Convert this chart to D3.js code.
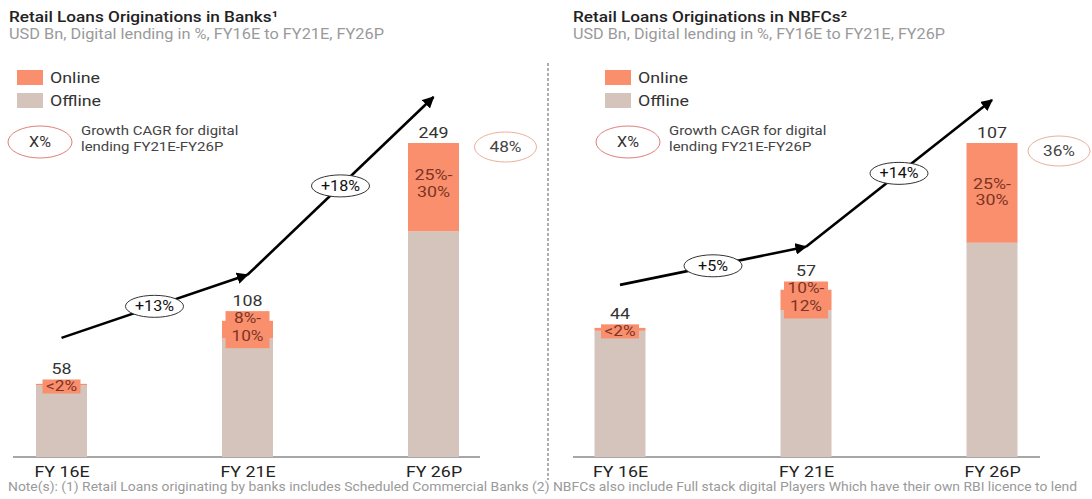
<!DOCTYPE html>
<html><head><meta charset="utf-8">
<script src="https://cdn.jsdelivr.net/npm/d3@7/dist/d3.min.js"></script>
<style>body{margin:0;background:#fff;}svg{display:block;font-family:Roboto,"Noto Sans",sans-serif;}</style>
</head><body><svg id="c" width="1092" height="499"></svg>
<script>
const categories = ["FY 16E", "FY 21E", "FY 26P"];
const banksTotal = [58, 108, 249];
const banksOnline = [1, 14, 70];
const banksOnlineLabels = [["<2%"], ["8%-", "10%"], ["25%-", "30%"]];
const banksCagr = ["+13%", "+18%"];
const banksDigitalCagr = "48%";
const nbfcTotal = [44, 57, 107];
const nbfcOnline = [1, 7, 34];
const nbfcOnlineLabels = [["<2%"], ["10%-", "12%"], ["25%-", "30%"]];
const nbfcCagr = ["+5%", "+14%"];
const nbfcDigitalCagr = "36%";
const titles = ["Retail Loans Originations in Banks\u00B9", "Retail Loans Originations in NBFCs\u00B2"];
const subtitle = "USD Bn, Digital lending in %, FY16E to FY21E, FY26P";
const legendItems = ["Online", "Offline"];
const legendCagr = ["Growth CAGR for digital", "lending FY21E-FY26P"];
const footnote = "Note(s):  (1) Retail Loans originating by banks includes Scheduled Commercial Banks (2) NBFCs also include Full stack digital Players Which have their own RBI licence to lend";

const ONLINE = "#f98f6d", OFFLINE = "#d4c4bb", LABELTXT = "#7c3424";
const SX = 1.15;
const svg = d3.select("#c");
const defs = svg.append("defs");
defs.append("marker").attr("id", "ah").attr("viewBox", "0 0 10 10").attr("refX", 9).attr("refY", 5)
  .attr("markerWidth", 4.5).attr("markerHeight", 4.5).attr("orient", "auto")
  .append("path").attr("d", "M0,0L10,5L0,10Z").attr("fill", "#000");

function panel(g, cfg) {
  const x = d3.scalePoint().domain(categories).range([cfg.x0, cfg.x0 + 372]);
  const y = d3.scaleLinear().domain([0, d3.max(cfg.total)]).range([457, 143]);
  const bw = 51;
  // title
  g.append("text").attr("x", cfg.tx).attr("y", 22).attr("font-size", 15.5).attr("font-weight", 500)
    .attr("fill", "#222").attr("textLength", cfg.tl).attr("lengthAdjust", "spacingAndGlyphs").text(cfg.title);
  g.append("text").attr("x", cfg.tx).attr("y", 39).attr("font-size", 14).attr("fill", "#9a9a9a")
    .attr("textLength", cfg.sl).attr("lengthAdjust", "spacingAndGlyphs").text(subtitle);
  // legend
  const lg = g.append("g").attr("transform", `translate(${cfg.lx},0)`);
  [ONLINE, OFFLINE].forEach((c, i) => {
    lg.append("rect").attr("x", 17).attr("y", 70 + i * 23).attr("width", 26).attr("height", 15).attr("fill", c);
    lg.append("text").attr("x", 50).attr("y", 83 + i * 23).attr("font-size", 15.5).attr("fill", "#333").text(legendItems[i]);
  });
  lg.append("ellipse").attr("cx", 40).attr("cy", 142).attr("rx", 32).attr("ry", 16)
    .attr("fill", "none").attr("stroke", "#e07f7a").attr("stroke-width", 1);
  lg.append("text").attr("x", 40).attr("y", 147).attr("text-anchor", "middle").attr("font-size", 14).attr("fill", "#333").text("X%");
  legendCagr.forEach((t, i) => lg.append("text").attr("x", 81).attr("y", 135 + i * 16).attr("font-size", 13).attr("fill", "#444").text(t));
  // axis
  const axis = g.append("g").attr("transform", "translate(0,457)")
    .call(d3.axisBottom(x).tickSize(0).tickPadding(9));
  axis.select(".domain").remove();
  axis.append("line").attr("x1", cfg.ax0).attr("x2", cfg.ax0 + 467).attr("stroke", "#8a8a8a").attr("stroke-width", 1.3);
  axis.selectAll(".tick text").attr("font-size", 15.5).attr("fill", "#222").attr("font-family", "Roboto,sans-serif");
  // bars
  const data = categories.map((c, i) => ({c, total: cfg.total[i], online: cfg.online[i], lab: cfg.labels[i]}));
  g.selectAll(".off").data(data).join("rect").attr("x", d => x(d.c) - bw / 2).attr("width", bw)
    .attr("y", d => y(d.total - d.online)).attr("height", d => 457 - y(d.total - d.online)).attr("fill", OFFLINE);
  g.selectAll(".on").data(data).join("rect").attr("x", d => x(d.c) - bw / 2).attr("width", bw)
    .attr("y", d => y(d.total)).attr("height", d => y(d.total - d.online) - y(d.total)).attr("fill", ONLINE);
  // label boxes for small segments
  data.forEach((d, i) => {
    const segMid = (y(d.total) + y(d.total - d.online)) / 2;
    const big = (y(d.total - d.online) - y(d.total)) > 50;
    let top = y(d.total);
    if (!big) {
      const h = d.lab.length === 1 ? 14 : 37, w = d.lab.length === 1 ? 38 : 44;
      const by = segMid - h / 2 + (d.lab.length === 1 ? 2 : 0);
      g.append("rect").attr("x", x(d.c) - w / 2).attr("y", by).attr("width", w).attr("height", h).attr("fill", ONLINE);
      top = Math.min(top, by);
      d.lab.forEach((t, j) => g.append("text").attr("x", x(d.c)).attr("y", by + 12 + j * 17.5)
        .attr("text-anchor", "middle").attr("font-size", 15).attr("fill", LABELTXT).text(t));
    } else {
      d.lab.forEach((t, j) => g.append("text").attr("x", x(d.c)).attr("y", segMid - 7 + j * 16.5 + (cfg.bigShift || 0))
        .attr("text-anchor", "middle").attr("font-size", 15.5).attr("fill", LABELTXT).text(t));
    }
    g.append("text").attr("x", x(d.c)).attr("y", top - 5).attr("text-anchor", "middle").attr("font-size", 15.5)
      .attr("fill", "#333").text(d.total);
  });
  // growth arrows
  const pts = data.map(d => [x(d.c), y(d.total) - cfg.lift]);
  for (let i = 0; i < 2; i++) {
    g.append("line").attr("x1", pts[i][0]).attr("y1", pts[i][1]).attr("x2", pts[i + 1][0]).attr("y2", pts[i + 1][1])
      .attr("stroke", "#000").attr("stroke-width", 2.6).attr("marker-end", "url(#ah)");
    const mx = (pts[i][0] + pts[i + 1][0]) / 2, my = (pts[i][1] + pts[i + 1][1]) / 2;
    g.append("ellipse").attr("cx", mx).attr("cy", my).attr("rx", 29).attr("ry", 11).attr("fill", "#fff")
      .attr("stroke", "#333").attr("stroke-width", 1);
    g.append("text").attr("x", mx).attr("y", my + 5).attr("text-anchor", "middle").attr("font-size", 14)
      .attr("fill", "#111").text(cfg.cagr[i]);
  }
  // digital CAGR ellipse
  g.append("ellipse").attr("cx", x(categories[2]) + cfg.dcx).attr("cy", cfg.dcy).attr("rx", 31).attr("ry", 15)
    .attr("fill", "none").attr("stroke", "#eab09c").attr("stroke-width", 1);
  g.append("text").attr("x", x(categories[2]) + cfg.dcx).attr("y", cfg.dcy + 5).attr("text-anchor", "middle")
    .attr("font-size", 15).attr("fill", "#444").text(cfg.dcagr);
}

panel(svg.append("g"), {x0: 61.5, tx: 9, lx: 0, ax0: 13, total: banksTotal, online: banksOnline, labels: banksOnlineLabels,
  cagr: banksCagr, dcagr: banksDigitalCagr, lift: 46, title: titles[0], dcx: 72, dcy: 147, tl: 269, sl: 375});
panel(svg.append("g"), {x0: 620, tx: 573, lx: 588, ax0: 573, total: nbfcTotal, online: nbfcOnline, labels: nbfcOnlineLabels,
  cagr: nbfcCagr, dcagr: nbfcDigitalCagr, lift: 43, title: titles[1], dcx: 67, dcy: 151, bigShift: 3, tl: 274, sl: 372});

svg.append("line").attr("x1", 548).attr("x2", 548).attr("y1", 63).attr("y2", 480)
  .attr("stroke", "#777").attr("stroke-width", 1.2).attr("stroke-dasharray", "3,2");
svg.append("text").attr("x", 8).attr("y", 491).attr("font-size", 12.2).attr("fill", "#9a9a9a")
  .attr("textLength", 1069).attr("lengthAdjust", "spacingAndGlyphs").text(footnote);

// widen glyphs horizontally to match the reference's wide face
svg.selectAll("text").filter(function () { return !this.hasAttribute("textLength"); }).each(function () {
  const x0 = +(this.getAttribute("x") || 0);
  d3.select(this).attr("transform", `translate(${x0},0) scale(${SX},1) translate(${-x0},0)`);
});
</script></body></html>
